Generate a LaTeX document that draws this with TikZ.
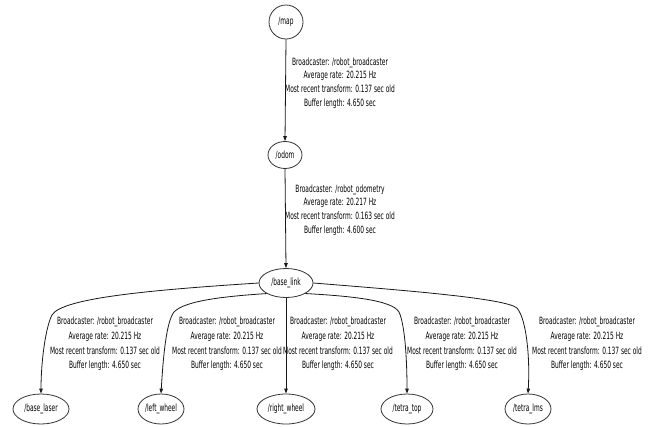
\documentclass[tikz,border=0pt]{standalone}
\usepackage{fontspec}
\usetikzlibrary{arrows.meta,shapes.geometric}
\newfontfamily\lblfont[FakeStretch=0.59]{DejaVu Sans}
\begin{document}
\begin{tikzpicture}[x=1pt,y=-1pt,
  frame/.style={draw=black!80, line width=0.8pt, ellipse, inner sep=0pt, font={\lblfont\fontsize{10}{12}\selectfont}},
  lbl/.style={align=center, inner sep=0pt, font={\lblfont\fontsize{10}{13.6}\selectfont}},
  lblb/.style={align=center, inner sep=0pt, font={\lblfont\fontsize{10}{14.6}\selectfont}},
  tf/.style={draw=black!90, line width=0.8pt, -{Triangle[length=5pt,width=3.5pt]}}]
\fill[white] (0,0) rectangle (650,426);
\useasboundingbox (0,0) rectangle (650,426);
% nodes
\node[frame, circle, minimum size=34pt] (map) at (286,22) {/map};
\node[frame, minimum width=34pt, minimum height=27pt] (odom) at (285,155) {/odom};
\node[frame, minimum width=54pt, minimum height=29pt] (base) at (286,283) {/base\_link};
\node[frame, minimum width=56pt, minimum height=30pt] (laser) at (41,409) {/base\_laser};
\node[frame, minimum width=46pt, minimum height=30pt] (lw) at (161,409) {/left\_wheel};
\node[frame, minimum width=58pt, minimum height=30pt] (rw) at (286,409) {/right\_wheel};
\node[frame, minimum width=52pt, minimum height=30pt] (tt) at (407,409) {/tetra\_top};
\node[frame, minimum width=46pt, minimum height=30pt] (tl) at (528,409) {/tetra\_lms};
% labels
\node[lbl] (l1) at (340,83) {Broadcaster: /robot\_broadcaster\\Average rate: 20.215 Hz\\Most recent transform: 0.137 sec old\\Buffer length: 4.650 sec};
\node[lbl] (l2) at (340,210) {Broadcaster: /robot\_odometry\\Average rate: 20.217 Hz\\Most recent transform: 0.163 sec old\\Buffer length: 4.600 sec};
\node[lblb] (l3) at (105,344) {Broadcaster: /robot\_broadcaster\\Average rate: 20.215 Hz\\Most recent transform: 0.137 sec old\\Buffer length: 4.650 sec};
\node[lblb] (l4) at (227,344) {Broadcaster: /robot\_broadcaster\\Average rate: 20.215 Hz\\Most recent transform: 0.137 sec old\\Buffer length: 4.650 sec};
\node[lblb] (l5) at (338,344) {Broadcaster: /robot\_broadcaster\\Average rate: 20.215 Hz\\Most recent transform: 0.137 sec old\\Buffer length: 4.650 sec};
\node[lblb] (l6) at (462,344) {Broadcaster: /robot\_broadcaster\\Average rate: 20.215 Hz\\Most recent transform: 0.137 sec old\\Buffer length: 4.650 sec};
\node[lblb] (l7) at (587,344) {Broadcaster: /robot\_broadcaster\\Average rate: 20.215 Hz\\Most recent transform: 0.137 sec old\\Buffer length: 4.650 sec};
% edges
\draw[tf] (map.south) -- (odom.north);
\draw[tf] (odom.south) -- (base.north);
\draw[tf] (base.west) .. controls (150,290) and (62,298) .. (52,315) .. controls (46,326) and (41,360) .. (laser.north);
\draw[tf] (base.south west) .. controls (230,296) and (185,300) .. (174,312) .. controls (166,322) and (163,360) .. (lw.north);
\draw[tf] (base.south) -- (rw.north);
\draw[tf] (base.south east) .. controls (350,296) and (392,300) .. (399,312) .. controls (405,325) and (407,360) .. (tt.north);
\draw[tf] (base.east) .. controls (400,290) and (505,298) .. (517,308) .. controls (527,320) and (530,360) .. (tl.north);
\end{tikzpicture}
\end{document}
